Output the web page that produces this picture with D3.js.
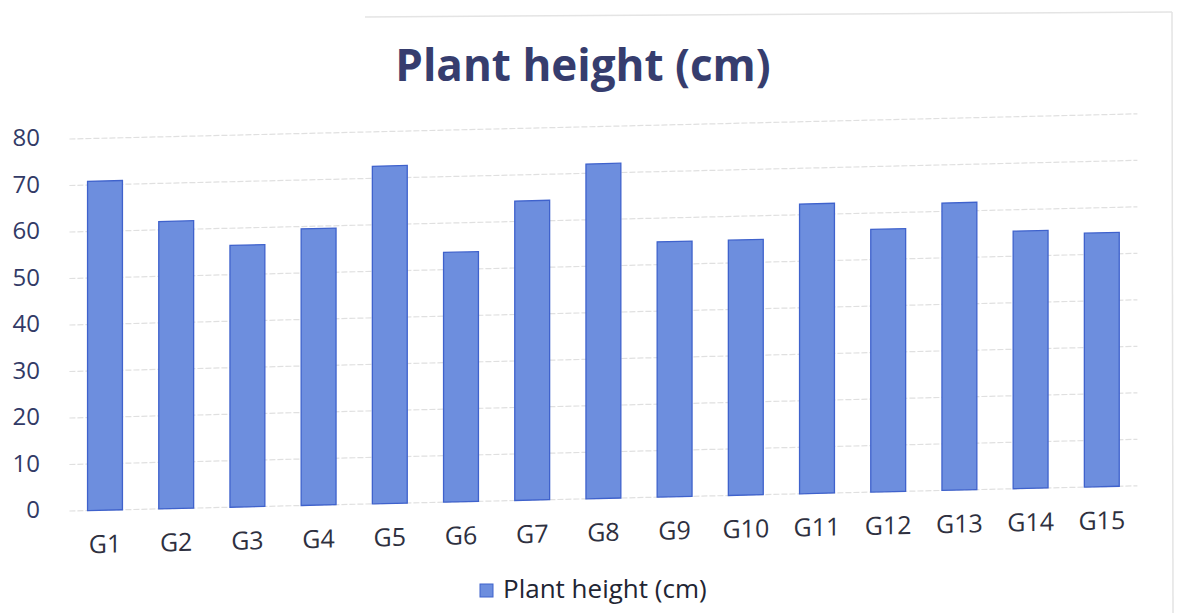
<!DOCTYPE html>
<html>
<head>
<meta charset="utf-8">
<script src="https://cdnjs.cloudflare.com/ajax/libs/d3/7.8.5/d3.min.js"></script>
<style>
  html, body { margin: 0; padding: 0; background: #ffffff; }
  svg { display: block; font-family: "Open Sans", "Noto Sans", sans-serif; }
</style>
</head>
<body>
<svg id="chart" width="1183" height="613"></svg>
<script>
// Genotypes and their mean plant height (cm)
const categories = ["G1", "G2", "G3", "G4", "G5", "G6", "G7", "G8", "G9", "G10", "G11", "G12", "G13", "G14", "G15"];
const plantHeight = [70.8, 61.8, 56.3, 59.5, 72.6, 53.7, 64.4, 72.0, 54.9, 54.9, 62.3, 56.5, 61.8, 55.4, 54.6];
const yTicks = [0, 10, 20, 30, 40, 50, 60, 70, 80];
const seriesName = "Plant height (cm)";
const titleText = "Plant height (cm)";

const svg = d3.select("#chart");

const plotLeft = 69.4, plotRight = 1137.4;
const x = d3.scaleBand()
  .domain(categories)
  .range([plotLeft, plotRight])
  .paddingInner(0.51)
  .paddingOuter(0.255);

const y = d3.scaleLinear().domain([0, 80]).range([511, 139]);

const barFill = "#6d8ede";
const barStroke = "#3f62cc";

// chart frame edges
svg.append("line").attr("x1", 365).attr("x2", 1172).attr("y1", 17).attr("y2", 12)
  .attr("stroke", "#e4e4e4").attr("stroke-width", 1.5);
svg.append("line").attr("x1", 1172).attr("x2", 1173).attr("y1", 12).attr("y2", 613)
  .attr("stroke", "#e4e4e4").attr("stroke-width", 1.5);

// title
svg.append("text")
  .attr("x", 583).attr("y", 81)
  .attr("text-anchor", "middle")
  .attr("font-size", 44).attr("font-weight", 700)
  .attr("fill", "#363d6e")
  .text(titleText);

// value axis labels
svg.append("g").selectAll("text")
  .data(yTicks).join("text")
  .attr("x", 40).attr("y", d => y(d) + 1)
  .attr("text-anchor", "end")
  .attr("dominant-baseline", "middle")
  .attr("font-size", 24)
  .attr("fill", "#323a66")
  .text(d => d);

// plot area, sheared so the baseline slopes upward to the right
const plot = svg.append("g")
  .attr("transform", `translate(${plotLeft},511) skewY(-1.35) translate(${-plotLeft},-511)`);

plot.append("g").selectAll("line")
  .data(yTicks).join("line")
  .attr("x1", plotLeft).attr("x2", plotRight)
  .attr("y1", d => y(d)).attr("y2", d => y(d))
  .attr("stroke", "#e0e0e0").attr("stroke-width", 1.2)
  .attr("stroke-dasharray", "6,2");

plot.append("g").selectAll("rect")
  .data(categories).join("rect")
  .attr("x", d => x(d))
  .attr("y", (d, i) => y(plantHeight[i]))
  .attr("width", x.bandwidth())
  .attr("height", (d, i) => y(0) - y(plantHeight[i]))
  .attr("fill", barFill)
  .attr("stroke", barStroke)
  .attr("stroke-width", 1.3);

plot.append("g").selectAll("text")
  .data(categories).join("text")
  .attr("x", d => x(d) + x.bandwidth() / 2)
  .attr("y", y(0) + 36)
  .attr("text-anchor", "middle")
  .attr("dominant-baseline", "middle")
  .attr("font-size", 25)
  .attr("fill", "#2e3040")
  .text(d => d);

// legend
const legend = svg.append("g");
legend.append("rect")
  .attr("x", 480).attr("y", 584).attr("width", 13).attr("height", 13)
  .attr("fill", barFill).attr("stroke", barStroke).attr("stroke-width", 1);
legend.append("text")
  .attr("x", 503).attr("y", 591)
  .attr("dominant-baseline", "middle")
  .attr("font-size", 26)
  .attr("fill", "#222533")
  .text(seriesName);
</script>
</body>
</html>
